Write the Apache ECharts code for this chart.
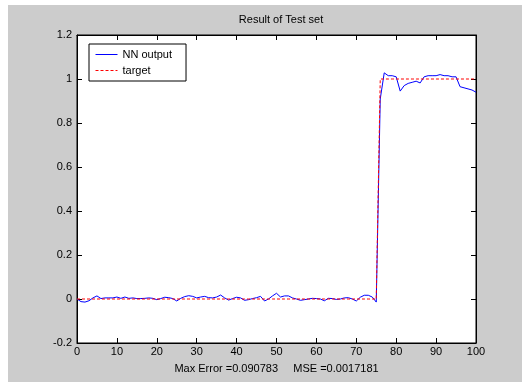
<!DOCTYPE html>
<html>
<head>
<meta charset="utf-8">
<script src="https://cdn.jsdelivr.net/npm/echarts@6/dist/echarts.min.js"></script>
<style>
html, body { margin: 0; padding: 0; background: #ffffff; }
#chart { width: 522px; height: 382px; }
</style>
</head>
<body>
<div id="chart"></div>
<script>
// sample index 0..100
var xs = [];
for (var i = 0; i <= 100; i++) xs.push(i);

// network output
var nnOut = [
	0, -0.012, -0.014, -0.008, 0.005, 0.014, 0.002, 0.005, 0.005, 0.005,
	0.009, 0.003, 0.009, 0.003, 0.005, 0.002, 0.002, 0.003, 0.005, 0.003,
	-0.003, 0.002, 0.008, 0.006, 0.002, -0.009, 0.003, 0.011, 0.015, 0.012,
	0.005, 0.009, 0.012, 0.006, 0.005, 0.009, 0.018, 0.005, -0.005, 0.002,
	0.008, 0.005, -0.006, -0.003, 0.002, 0.006, 0.012, -0.009, 0, 0.014,
	0.026, 0.009, 0.014, 0.014, 0.005, 0, -0.006, -0.003, 0, 0.003,
	0.002, 0, -0.008, 0.003, 0.002, -0.002, 0, 0.005, 0.006, 0,
	-0.009, 0.008, 0.017, 0.017, 0.009, -0.014, 0.909, 1.028, 1.015, 1.015,
	1.01, 0.945, 0.97, 0.98, 0.985, 0.99, 0.982, 1.01, 1.015, 1.015,
	1.015, 1.02, 1.015, 1.015, 1.01, 1.01, 0.965, 0.96, 0.955, 0.95,
	0.94
];

// target values
var target = [];
for (var j = 0; j <= 100; j++) target.push(j <= 75 ? 0 : 1);

var _title = "Result of Test set";
var _xname = "Max Error =0.090783     MSE =0.0017181";
var font = "Liberation Sans, Arial, sans-serif";

function pairs(ys) {
	var out = [];
	for (var k = 0; k < xs.length; k++) out.push([xs[k], ys[k]]);
	return out;
}

function boxAxis(extra) {
	var ax = {
		type: "value",
		axisLine: { show: true, onZero: false, lineStyle: { color: "#000" } },
		axisTick: { show: true, inside: true, length: 5, lineStyle: { color: "#000" } },
		axisLabel: { fontFamily: font, fontSize: 11, color: "#000" },
		splitLine: { show: false }
	};
	for (var key in extra) ax[key] = extra[key];
	return ax;
}

var chart = echarts.init(document.getElementById("chart"), null, { renderer: "canvas" });

chart.setOption({
	backgroundColor: "#ffffff",
	animation: false,
	graphic: [{
		type: "rect",
		z: -10,
		shape: { x: 8, y: 5, width: 514, height: 377 },
		style: { fill: "#cccccc" }
	}],
	title: {
		text: _title,
		left: 276,
		top: 9,
		textAlign: "center",
		textStyle: { fontFamily: font, fontSize: 11, fontWeight: "normal", color: "#000" }
	},
	legend: {
		orient: "vertical",
		left: 89,
		top: 44,
		backgroundColor: "#ffffff",
		borderColor: "#000000",
		borderWidth: 1,
		borderRadius: 0,
		padding: [5, 14, 5, 6],
		itemWidth: 22,
		itemHeight: 10,
		itemGap: 5,
		itemStyle: { opacity: 0 },
		lineStyle: { width: 1 },
		textStyle: { fontFamily: font, fontSize: 11, color: "#000" },
		data: ["NN output", "target"]
	},
	grid: {
		left: 77,
		right: 46,
		top: 35,
		bottom: 39,
		show: true,
		backgroundColor: "#ffffff",
		borderColor: "#000000",
		borderWidth: 1
	},
	xAxis: [
		boxAxis({
			min: 0, max: 100, interval: 10,
			position: "bottom",
			name: _xname,
			nameLocation: "middle",
			nameGap: 20,
			nameTextStyle: { fontFamily: font, fontSize: 11, color: "#000" },
			axisLabel: { fontFamily: font, fontSize: 11, color: "#000", margin: 3 }
		}),
		boxAxis({
			min: 0, max: 100, interval: 10,
			position: "top",
			axisLabel: { show: false }
		})
	],
	yAxis: [
		boxAxis({
			min: -0.2, max: 1.2, interval: 0.2,
			position: "left",
			axisLabel: { fontFamily: font, fontSize: 11, color: "#000", margin: 5 }
		}),
		boxAxis({
			min: -0.2, max: 1.2, interval: 0.2,
			position: "right",
			axisLabel: { show: false }
		})
	],
	series: [{
		name: "NN output",
		type: "line",
		data: pairs(nnOut),
		symbol: "none",
		lineStyle: { color: "#0000ff", width: 1 },
		itemStyle: { color: "#0000ff" }
	}, {
		name: "target",
		type: "line",
		data: pairs(target),
		symbol: "none",
		lineStyle: { color: "#ff0000", width: 1, type: [3, 2] },
		itemStyle: { color: "#ff0000" }
	}]
});
</script>
</body>
</html>
